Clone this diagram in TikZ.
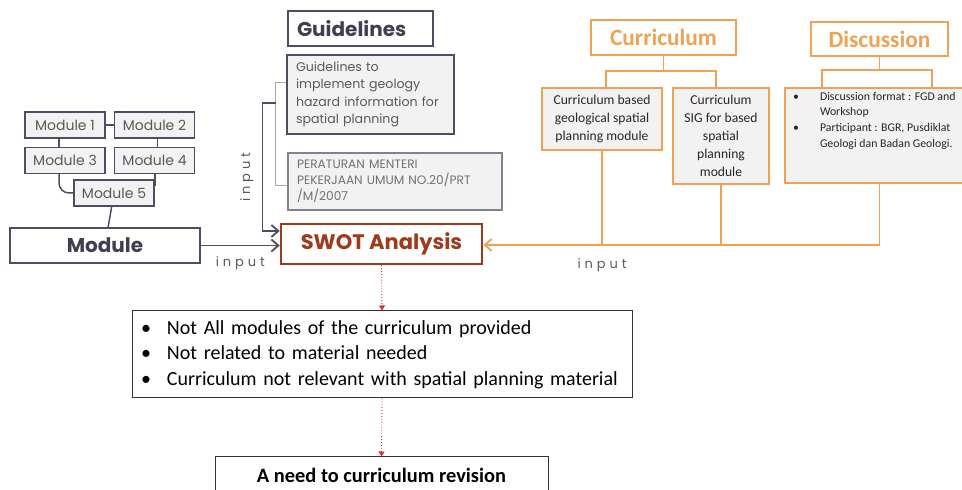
\documentclass[tikz,border=0pt]{standalone}
\usepackage{fontspec}
\usepackage{tikz}
\usetikzlibrary{arrows.meta}
\usetikzlibrary{positioning}
\setmainfont{Carlito}
\newfontfamily\gothic{Poppins}
\newfontfamily\spaced{Poppins}[LetterSpace=30]

\definecolor{boxgray}{HTML}{F2F2F2}
\definecolor{slate}{HTML}{4D4D63}
\definecolor{txtgray}{HTML}{595959}
\definecolor{titlegray}{HTML}{3F3F50}
\definecolor{swotred}{HTML}{A03A1C}
\definecolor{orng}{HTML}{F0A254}
\definecolor{dotred}{HTML}{D93030}

\tikzset{
  graybox/.style={rectangle,draw=slate,fill=boxgray,line width=0.75pt,inner sep=0pt},
  modbox/.style={graybox,minimum width=40pt,minimum height=13pt,text=txtgray,font=\gothic\fontsize{7pt}{8pt}\selectfont},
  orbox/.style={rectangle,draw=orng,fill=boxgray,line width=0.9pt,inner sep=0pt,align=center,text=black!85,font=\fontsize{6.8pt}{9pt}\selectfont},
  ortitle/.style={rectangle,draw=orng,line width=0.9pt,text=orng,font=\bfseries\fontsize{11.7pt}{13pt}\selectfont},
  mline/.style={draw=slate,line width=0.75pt},
  gline/.style={draw=black!35,line width=0.6pt},
  darrow/.style={draw=slate,line width=0.9pt,-{Straight Barb[length=3.5pt,width=6pt]}},
  oline/.style={draw=orng,line width=0.9pt},
  oarrow/.style={oline,-{Straight Barb[length=3.5pt,width=6pt]}},
  rarrow/.style={draw=dotred,line width=0.45pt,densely dotted,-{Triangle[length=2.5pt,width=3pt]}},
  inlab/.style={text=txtgray,font=\spaced\fontsize{6.5pt}{7pt}\selectfont}
}

\begin{document}
\begin{tikzpicture}[x=0.5pt,y=-0.5pt]
\useasboundingbox (0,0) rectangle (962,490);

% guidelines column
\node[rectangle,draw=slate,line width=0.75pt,minimum width=72.5pt,minimum height=17.5pt,inner xsep=4.5pt,text width=63.5pt,align=left,text=titlegray,font=\gothic\bfseries\fontsize{10pt}{12pt}\selectfont](guide) at (360.5,28.5){Guidelines};
\node[graybox,minimum width=83.5pt,minimum height=39.5pt,inner xsep=4.5pt,text width=74.5pt,align=left,text=txtgray,font=\gothic\fontsize{6.3pt}{8.65pt}\selectfont](gtext) at (370.5,94.5){Guidelines to\\implement geology\\hazard information for\\spatial planning};
\node[graybox,draw=slate!70,minimum width=107pt,minimum height=28.5pt,inner xsep=4.5pt,text width=98pt,align=left,text=txtgray!85,font=\gothic\fontsize{6.1pt}{8pt}\selectfont](reg) at (395,181.5){PERATURAN MENTERI\\PEKERJAAN UMUM NO.20/PRT\\/M/2007};

% modules
\node[modbox](m1) at (65,125){Module 1};
\node[modbox,right=4pt of m1](m2){Module 2};
\node[modbox,below=4pt of m1](m3){Module 3};
\node[modbox,below=4pt of m2](m4){Module 4};
\node[modbox](m5) at (114,193){Module 5};
\node[rectangle,draw=slate,line width=0.75pt,minimum width=95pt,minimum height=17.5pt,text=titlegray,font=\gothic\bfseries\fontsize{10pt}{12pt}\selectfont](module) at (105,245.5){Module};

% swot
\node[rectangle,draw=swotred,line width=1.25pt,fill=white,minimum width=100.5pt,minimum height=20pt,text=swotred,font=\gothic\bfseries\fontsize{10.5pt}{12pt}\selectfont](swot) at (381.5,244){SWOT Analysis};

% curriculum and discussion
\node[ortitle,minimum width=72.5pt,minimum height=17.5pt](curr) at (663.5,37.5){Curriculum};
\node[ortitle,minimum width=68.5pt,minimum height=17pt](disc) at (879.5,39){Discussion};
\node[orbox,minimum width=60pt,minimum height=31pt](cbased) at (602,119){Curriculum based\\geological spatial\\planning module};
\node[orbox,minimum width=48pt,minimum height=48pt](csig) at (721,136){Curriculum\\SIG for based\\spatial\\planning\\module};
\node[orbox,minimum width=95pt,minimum height=47.5pt,inner xsep=4pt,inner ysep=2pt,align=left,font=\fontsize{5.9pt}{7.85pt}\selectfont](dtext) at (880,135.5){\parbox[c][43.5pt][t]{87pt}{\makebox[13.5pt][l]{\textbullet}Discussion format : FGD and\\\hspace*{13.5pt}Workshop\\\makebox[13.5pt][l]{\textbullet}Participant : BGR, Pusdiklat\\\hspace*{13.5pt}Geologi dan Badan Geologi.}};

% results
\node[rectangle,draw=black!80,line width=0.5pt,minimum width=250pt,minimum height=43.5pt,inner xsep=4.5pt,text width=241pt,align=left,font=\fontsize{10pt}{12.85pt}\selectfont](issues) at (382,354.5){\makebox[13pt][l]{\textbullet}Not All modules of the curriculum provided\\\makebox[13pt][l]{\textbullet}Not related to material needed\\\makebox[13pt][l]{\textbullet}Curriculum not relevant with spatial planning material};
\node[rectangle,draw=black!80,line width=0.5pt,minimum width=166.5pt,minimum height=18pt,font=\bfseries\fontsize{10.2pt}{12pt}\selectfont](need) at (381.5,475){A need to curriculum revision};

% module links
\draw[mline] (m1) -- (m2);
\draw[mline] ([xshift=-3pt]m1.south) -- ([xshift=-3pt]m3.north);
\draw[mline] ([xshift=1.5pt]m2.south) -- ([xshift=1.5pt]m4.north);
\draw[mline,rounded corners=5pt] ([xshift=-3pt]m3.south) |- (m5.west);
\draw[mline] (m5.east |- m4.south) -- ([yshift=-3.5pt]m5.north east);
\draw[mline] (m5) -- (module);
\draw[darrow] (module.east) -- node[inlab,below=2pt]{input} (module.east -| swot.west);

% guideline links
\coordinate (gj) at (275.5,103);
\draw[gline] ([yshift=6pt]gtext.west) -| (gj) |- ([yshift=-2pt]reg.west);
\draw[darrow] (gj) -- ++(-13,0) |- node[pos=0.29,inlab,rotate=90,anchor=south,inner ysep=4pt]{input} ([yshift=6.5pt]swot.west);

% curriculum links
\draw[oline] (curr.south) -- ++(0,15) coordinate (cj);
\draw[oline] ([xshift=2pt]cbased.north) |- (cj) -| ([xshift=-2.5pt]csig.north);
\draw[oline] (disc.south) -- ++(0,13) coordinate (dj);
\draw[oline] ([xshift=-29pt]dtext.north) |- (dj) -| ([xshift=26pt]dtext.north);
\coordinate (ol) at ([yshift=-0.5pt]swot.east);
\draw[oarrow] (dtext.south -| disc) |- (ol);
\draw[oline] (cbased.south) -- (cbased.south |- ol) node[inlab,below=3pt]{input};
\draw[oline] (csig.south) -- (csig.south |- ol);

% results flow
\draw[rarrow] (swot.south) -- (issues.north);
\draw[rarrow] (issues.south) -- (need.north);
\end{tikzpicture}
\end{document}
